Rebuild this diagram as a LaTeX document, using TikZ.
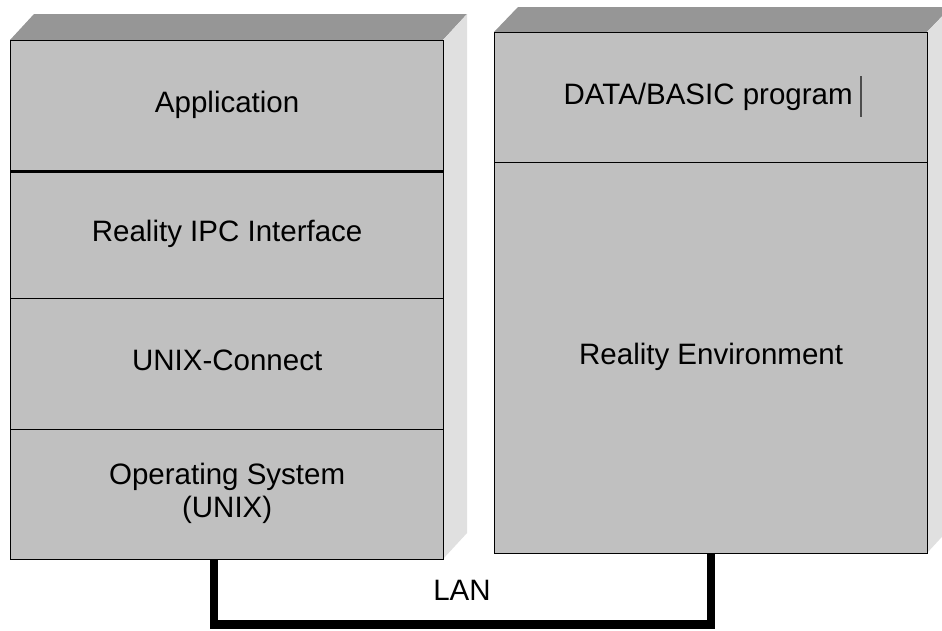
\documentclass[tikz,border=0pt]{standalone}
\usepackage{fontspec}
\setmainfont{Liberation Sans}
\definecolor{frontgray}{HTML}{C0C0C0}
\definecolor{topgray}{HTML}{969696}
\definecolor{sidegray}{HTML}{E0E0E0}
\newcommand{\lift}[2]{\raisebox{#1}{\begin{tabular}{@{}c@{}}#2\end{tabular}}}
\begin{document}
\begin{tikzpicture}[x=1pt,y=-1pt,
  layer/.style={draw=black,line width=1.3pt,fill=frontgray,minimum width=433pt,
    anchor=north west,inner sep=0pt,font=\fontsize{29.5}{33}\selectfont,align=center},
  topface/.style={fill=topgray},
  sideface/.style={fill=sidegray},
  lan/.style={line width=8.5pt,black}]
\clip (0,0) rectangle (942,630);
\fill[white] (0,0) rectangle (942,630);
% left stack 3D faces
\path[topface] (10,40) -- (34,14) -- (467,14) -- (443,40) -- cycle;
\path[sideface] (443,40) -- (467,14) -- (467,533) -- (443,559) -- cycle;
% right stack 3D faces
\path[topface] (494,32) -- (518,7) -- (951,7) -- (927,32) -- cycle;
\path[sideface] (927,32) -- (951,7) -- (951,527) -- (927,553) -- cycle;
% left layers
\node[layer,minimum height=130pt] (app) at (10,40) {\lift{3pt}{Application}};
\node[layer,minimum height=128pt] (ipc) at (10,170) {\lift{0pt}{Reality IPC Interface}};
\node[layer,minimum height=131pt] (uc) at (10,298) {\lift{5pt}{UNIX-Connect}};
\node[layer,minimum height=130pt] (os) at (10,429) {\lift{5pt}{Operating System\\(UNIX)}};
\draw[line width=3pt] (app.south west) -- (app.south east);
% right layers
\node[layer,minimum height=130pt] (prog) at (494,32) {\lift{0pt}{\hspace*{-6pt}DATA/BASIC program}};
\node[layer,minimum height=391pt] (env) at (494,162) {\lift{4pt}{Reality Environment}};
\draw[gray!60!black,line width=1.3pt] (861,76) -- (861,117);
% LAN
\coordinate (lanL) at (214,624.5);
\coordinate (lanR) at (711,624.5);
\draw[lan] (os.south -| lanL) -- (lanL) -- (lanR) -- (env.south -| lanR);
\node[font=\fontsize{29.5}{33}\selectfont] (lanlabel) at (462,590) {LAN};
\end{tikzpicture}
\end{document}
